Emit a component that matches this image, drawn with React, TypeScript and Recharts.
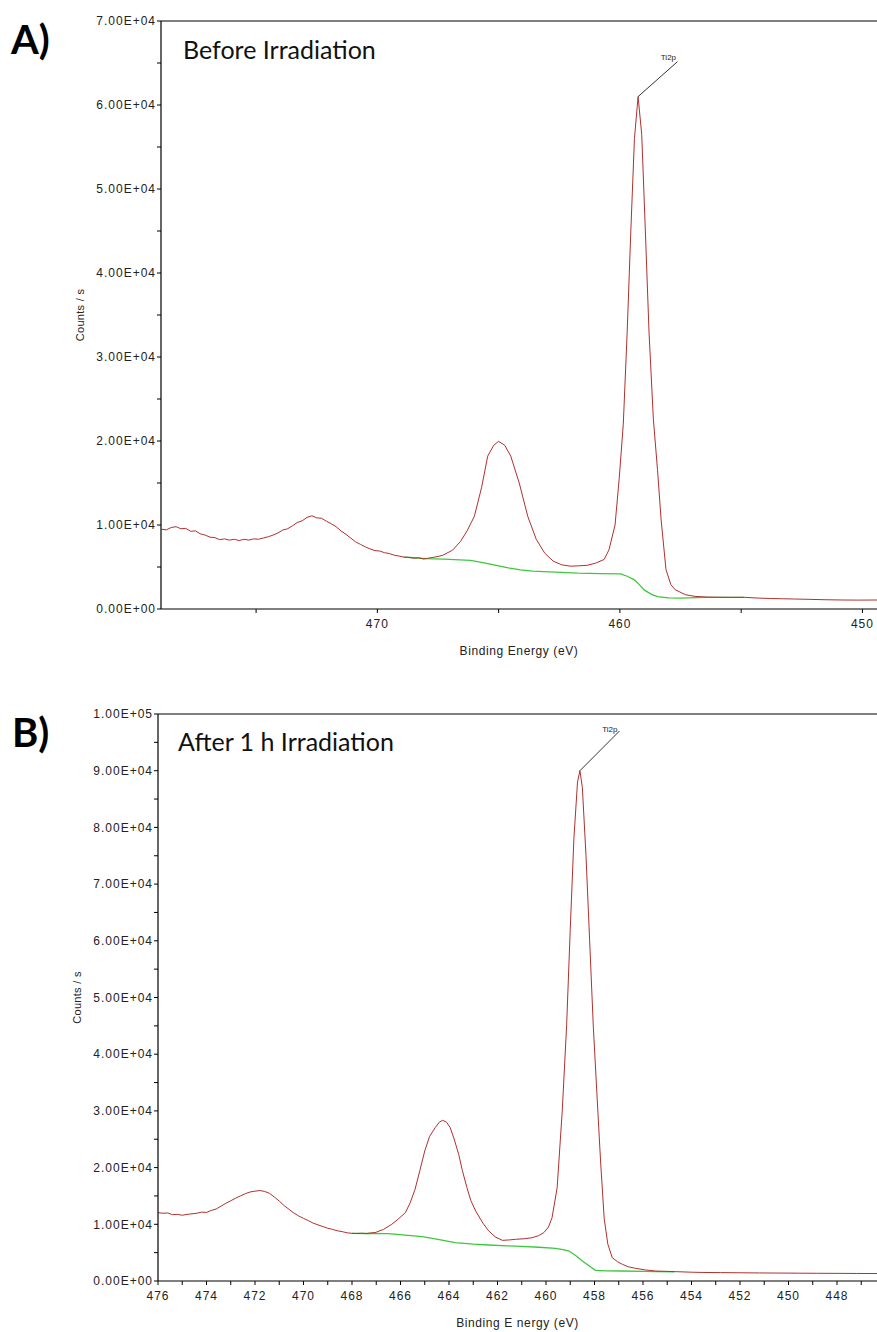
import React from 'react';
import {
  LineChart,
  Line,
  XAxis,
  YAxis,
  ReferenceLine,
  ReferenceDot,
} from 'recharts';

// ---- A) Before irradiation ----
const aRedEnergy = [
  478.9, 478.7, 478.5, 478.3, 478.1, 477.9, 477.7, 477.5, 477.3, 477.1, 476.9, 476.7, 476.5,
  476.3, 476.1, 475.9, 475.7, 475.5, 475.3, 475.1, 474.9, 474.7, 474.5, 474.3, 474.1, 473.9,
  473.7, 473.5, 473.3, 473.1, 472.9, 472.7, 472.5, 472.3, 472.1, 471.9, 471.7, 471.5, 471.3,
  471.1, 470.9, 470.7, 470.5, 470.3, 470.1, 469.9, 469.7, 469.5, 469.3, 469.1, 468.9, 468.7,
  468.5, 468.3, 468.1, 467.9, 467.7, 467.5, 467.3, 466.9, 466.57, 466.3,
  466.0, 465.7, 465.45, 465.2, 465.0, 464.75, 464.5, 464.15, 463.8, 463.45, 463.1, 462.75, 462.4,
  462.05, 461.7, 461.35, 461.0, 460.65, 460.45, 460.2, 460.03, 459.86, 459.7, 459.55, 459.4,
  459.25, 459.1, 458.95, 458.8, 458.62, 458.45, 458.3, 458.1, 457.9, 457.72, 457.3, 456.9, 456.4,
  455.88, 455.4, 454.87, 454.3, 453.8, 453.3, 452.8, 452.2, 451.5, 450.8, 450.2, 449.4,
];
const aRedCounts = [
  9500, 9420, 9700, 9800, 9550, 9600, 9250, 9300, 8950, 8800, 8550, 8500, 8250,
  8350, 8200, 8300, 8150, 8300, 8200, 8350, 8300, 8450, 8600, 8800, 9050, 9400,
  9550, 9900, 10300, 10500, 10900, 11100, 10850, 10800, 10450, 10150, 9800, 9300, 8900,
  8450, 8000, 7700, 7400, 7150, 6950, 6900, 6700, 6600, 6400, 6300, 6175, 6150,
  6050, 6100, 5950, 6050, 6150, 6250, 6400, 7000, 8050, 9300,
  11040, 14500, 18200, 19500, 19960, 19500, 18200, 15000, 11040, 8300, 6650, 5700, 5260,
  5100, 5140, 5200, 5460, 5900, 7050, 10000, 15500, 22000, 33000, 45000, 56000,
  61000, 56500, 45000, 33000, 22600, 16600, 10600, 4700, 2900, 2300, 1700, 1500, 1420,
  1400, 1390, 1390, 1300, 1250, 1220, 1190, 1150, 1100, 1070, 1060, 1070,
];
const aGreenEnergy = [
  468.9, 468.5, 468.0, 467.26, 466.6, 466.16, 465.6, 465.2, 464.6, 464.1, 463.6, 463.13, 462.4,
  461.75, 460.8, 459.97, 459.7, 459.4, 459.2, 459.0, 458.7, 458.45, 458.0, 457.5, 456.5, 455.5,
  454.87,
];
const aGreenCounts = [
  6175, 6100, 6000, 5940, 5850, 5780, 5500, 5260, 4900, 4660, 4520, 4460, 4350,
  4260, 4220, 4180, 3900, 3470, 2900, 2270, 1750, 1470, 1320, 1300, 1380, 1390,
  1390,
];
const aXTicks = [475, 470, 465, 460, 455, 450];
const aYTicks = [0, 5000, 10000, 15000, 20000, 25000, 30000, 35000, 40000, 45000, 50000, 55000, 60000, 65000, 70000];

// ---- B) After 1 h irradiation ----
const bRedEnergy = [
  476.0, 475.8, 475.6, 475.4, 475.2, 475.0, 474.8, 474.6, 474.4, 474.2, 474.0, 473.8, 473.6,
  473.4, 473.2, 473.0, 472.8, 472.6, 472.4, 472.2, 472.0, 471.8, 471.6, 471.4, 471.2, 471.0,
  470.8, 470.6, 470.4, 470.2, 470.0, 469.8, 469.6, 469.4, 469.2, 469.0, 468.8, 468.6, 468.4,
  468.2, 468.0, 467.8, 467.6, 467.4, 467.2, 467.05, 466.7, 466.36, 466.1, 465.8, 465.6, 465.4,
  465.2, 465.0, 464.8, 464.57,
  464.4, 464.26, 464.1, 463.95, 463.8, 463.6, 463.45, 463.26, 463.1, 462.9, 462.6, 462.36, 462.1,
  461.8, 461.5, 461.26, 460.9, 460.57, 460.3, 460.09, 459.9, 459.75, 459.54, 459.33, 459.15, 459.0,
  458.85, 458.7, 458.6, 458.5, 458.35, 458.2, 458.05, 457.9, 457.75, 457.6, 457.45, 457.27, 457.05,
  456.85, 456.6, 456.3, 455.9, 455.48, 455.0, 454.65, 454.0, 453.4, 452.8, 452.0, 451.2, 450.4,
  449.6, 448.8, 448.0, 447.2, 446.35,
];
const bRedCounts = [
  12050, 11950, 12000, 11700, 11750, 11600, 11750, 11850, 11950, 12150, 12100, 12450, 12700,
  13200, 13700, 14150, 14600, 15000, 15400, 15700, 15850, 15950, 15800, 15450, 14800, 14100,
  13300, 12650, 12000, 11470, 11050, 10650, 10200, 9900, 9600, 9300, 9100, 8850, 8700,
  8500, 8400, 8380, 8420, 8350, 8500, 8530, 9100, 10000, 10900, 12050, 13800, 16170,
  19500, 22930, 25500, 27050,
  28000, 28340, 28000, 27050, 25200, 22340, 19500, 16460, 14200, 12350, 10200, 8820, 7800,
  7170, 7250, 7350, 7450, 7640, 8000, 8530, 9500, 11170, 16460, 30000, 45000, 62000,
  78000, 88000, 90000, 87000, 75000, 60000, 45000, 33000, 21170, 11000, 6500, 4120, 3400,
  2940, 2500, 2230, 1950, 1760, 1700, 1650, 1550, 1500, 1480, 1450, 1420, 1400,
  1380, 1360, 1350, 1330, 1320,
];
const bGreenEnergy = [
  468.0, 467.3, 466.5, 465.8, 465.1, 464.4, 463.75, 463.0, 462.36, 461.6, 461.0, 460.3, 459.6,
  459.3, 459.05, 458.75, 458.5, 458.2, 457.96, 457.5, 456.85, 456.0, 455.48, 454.7,
];
const bGreenCounts = [
  8410, 8380, 8350, 8100, 7820, 7300, 6760, 6500, 6350, 6200, 6115, 5950, 5760,
  5550, 5290, 4400, 3530, 2600, 1880, 1800, 1760, 1700, 1650, 1620,
];
const bXTicks = [476, 475, 474, 473, 472, 471, 470, 469, 468, 467, 466, 465, 464, 463, 462, 461, 460, 459, 458, 457, 456, 455, 454, 453, 452, 451, 450, 449, 448, 447];
const bYTicks = [0, 5000, 10000, 15000, 20000, 25000, 30000, 35000, 40000, 45000, 50000, 55000, 60000, 65000, 70000, 75000, 80000, 85000, 90000, 95000, 100000];

const zip = (e: number[], c: number[]) => e.map((x, i) => ({ e: x, c: c[i] }));

const sci = (v: number) => {
  if (v % 10000 !== 0) return '';
  if (v === 0) return '0.00E+00';
  const exp = Math.floor(Math.log10(v));
  return `${(v / Math.pow(10, exp)).toFixed(2)}E+${String(exp).padStart(2, '0')}`;
};

const tickFont = { fontSize: 12, fill: '#222', fontFamily: 'Liberation Sans', letterSpacing: 1 };
const titleFont = { fontSize: 12, fill: '#222', fontFamily: 'Liberation Sans', letterSpacing: 0.6 };
const RED = '#b0302f';
const GREEN = '#3cc83c';

interface PanelProps {
  red: { e: number; c: number }[];
  green: { e: number; c: number }[];
  xDomain: [number, number];
  xTicks: number[];
  xLabelEvery: number;
  yMax: number;
  yTicks: number[];
  height: number;
  top: number;
  yAxisWidth: number;
  xAxisHeight: number;
  xTitle: string;
  xTitleOffset: number;
  yTitleOffset: number;
  peak: { e: number; c: number };
  tagEnd: { e: number; c: number };
  tagAt: { e: number; c: number };
}

const Panel: React.FC<PanelProps> = (p) => (
  <LineChart
    width={877}
    height={p.height}
    margin={{ top: p.top, right: 0, left: 0, bottom: 0 }}
  >
    <XAxis
      dataKey="e"
      type="number"
      domain={p.xDomain}
      allowDataOverflow
      reversed
      ticks={p.xTicks}
      interval={0}
      tickFormatter={(v: number) => (v % p.xLabelEvery === 0 ? String(v) : '')}
      tick={tickFont}
      tickSize={4}
      tickMargin={6}
      axisLine={{ stroke: '#000', strokeWidth: 1.2 }}
      tickLine={{ stroke: '#000' }}
      height={p.xAxisHeight}
      label={{ value: p.xTitle, position: 'insideBottom', offset: p.xTitleOffset, style: titleFont }}
    />
    <YAxis
      type="number"
      domain={[0, p.yMax]}
      allowDataOverflow
      ticks={p.yTicks}
      interval={0}
      tickFormatter={sci}
      tick={tickFont}
      tickSize={4}
      tickMargin={1}
      width={p.yAxisWidth}
      axisLine={{ stroke: '#000', strokeWidth: 1.2 }}
      tickLine={{ stroke: '#000' }}
      label={{
        value: 'Counts / s',
        angle: -90,
        position: 'insideLeft',
        offset: p.yTitleOffset,
        style: { ...titleFont, fontSize: 11, letterSpacing: 0.3, textAnchor: 'middle' },
      }}
    />
    <ReferenceLine y={p.yMax} stroke="#000" strokeWidth={1.2} />
    <Line
      data={p.green}
      dataKey="c"
      type="linear"
      stroke={GREEN}
      strokeWidth={1.3}
      dot={false}
      isAnimationActive={false}
    />
    <Line
      data={p.red}
      dataKey="c"
      type="linear"
      stroke={RED}
      strokeWidth={1}
      dot={false}
      isAnimationActive={false}
    />
    <ReferenceLine
      segment={[
        { x: p.peak.e, y: p.peak.c },
        { x: p.tagEnd.e, y: p.tagEnd.c },
      ]}
      stroke="#000"
      strokeWidth={0.8}
    />
    <ReferenceDot
      x={p.tagAt.e}
      y={p.tagAt.c}
      r={0}
      fill="none"
      stroke="none"
      label={{ value: 'Ti2p', position: 'center', style: { fontSize: 8, fill: '#222', fontFamily: 'Liberation Sans' } }}
    />
  </LineChart>
);

const panelTitle = { fontFamily: 'Lato', fontSize: 25, fill: '#111' };
const panelTag = { fontFamily: 'Lato', fontSize: 40, fontWeight: 700, fill: '#000' };

export default function App() {
  return (
    <div
      style={{
        position: 'absolute',
        left: 0,
        top: 0,
        width: 877,
        height: 1332,
        overflow: 'hidden',
        background: '#fff',
      }}
    >
      <div style={{ position: 'absolute', left: 0, top: 0 }}>
        <Panel
          red={zip(aRedEnergy, aRedCounts)}
          green={zip(aGreenEnergy, aGreenCounts)}
          xDomain={[449.4, 478.92]}
          xTicks={aXTicks}
          xLabelEvery={10}
          yMax={70000}
          yTicks={aYTicks}
          height={665}
          top={21}
          yAxisWidth={161}
          xAxisHeight={56}
          xTitle="Binding Energy (eV)"
          xTitleOffset={10}
          yTitleOffset={80}
          peak={{ e: 459.25, c: 61000 }}
          tagEnd={{ e: 457.63, c: 65150 }}
          tagAt={{ e: 458.0, c: 65700 }}
        />
      </div>
      <div style={{ position: 'absolute', left: 0, top: 670 }}>
        <Panel
          red={zip(bRedEnergy, bRedCounts)}
          green={zip(bGreenEnergy, bGreenCounts)}
          xDomain={[446.35, 476]}
          xTicks={bXTicks}
          xLabelEvery={2}
          yMax={100000}
          yTicks={bYTicks}
          height={670}
          top={44}
          yAxisWidth={158}
          xAxisHeight={59}
          xTitle="Binding E nergy (eV)"
          xTitleOffset={13}
          yTitleOffset={77}
          peak={{ e: 458.6, c: 90000 }}
          tagEnd={{ e: 456.97, c: 97000 }}
          tagAt={{ e: 457.37, c: 97400 }}
        />
      </div>
      <svg
        width={877}
        height={1332}
        style={{ position: 'absolute', left: 0, top: 0, pointerEvents: 'none' }}
      >
        <text x={11} y={54} style={panelTag}>A)</text>
        <text x={183} y={59} style={panelTitle}>Before Irradiation</text>
        <text x={12} y={747} style={panelTag}>B)</text>
        <text x={178} y={751} style={panelTitle}>After 1 h Irradiation</text>
      </svg>
    </div>
  );
}
